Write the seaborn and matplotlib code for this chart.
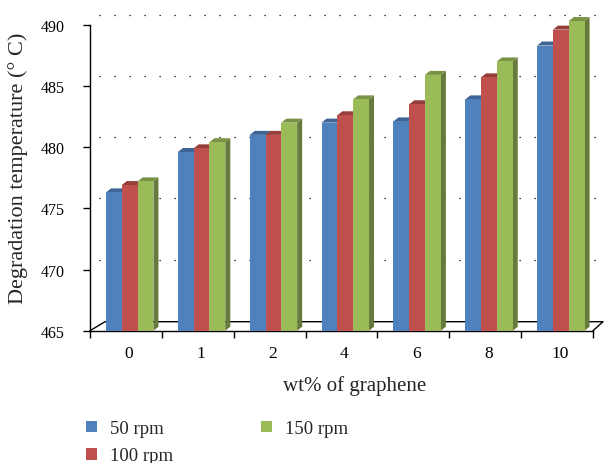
import numpy as np
import pandas as pd
import matplotlib
matplotlib.use("Agg")
import matplotlib.pyplot as plt
import seaborn as sns
from matplotlib.patches import Polygon, Patch
from matplotlib.colors import to_rgb

# ---- data ----
categories = ["0", "1", "2", "4", "6", "8", "10"]
rpm_50 = [476.3, 479.6, 481.0, 482.0, 482.1, 483.9, 488.3]
rpm_100 = [476.9, 479.9, 481.0, 482.6, 483.5, 485.7, 489.6]
rpm_150 = [477.2, 480.4, 482.0, 483.9, 485.9, 487.0, 490.3]
series_names = ["50 rpm", "100 rpm", "150 rpm"]
y_ticks = [465, 470, 475, 480, 485, 490]

sns.set_style("white")
plt.rcParams['font.family'] = ['Liberation Serif', 'DejaVu Serif']

df = pd.DataFrame({
    "wt": categories * 3,
    "temp": rpm_50 + rpm_100 + rpm_150,
    "speed": np.repeat(series_names, len(categories)),
})

colors = ["#4F81BD", "#C0504D", "#9BBB59"]


def shade(c, f):
    r, g, b = to_rgb(c)
    return (r * f, g * f, b * f)


W, H = 609, 464
fig = plt.figure(figsize=(W / 100, H / 100), dpi=100)
ax_left, ax_bottom, ax_w, ax_h = 90, 132.3, 503, 312.1
ax = fig.add_axes([ax_left / W, ax_bottom / H, ax_w / W, ax_h / H])
ymin, ymax = 465, 490.5

sns.barplot(data=df, x="wt", y="temp", hue="speed", order=categories,
            hue_order=series_names, palette=colors, saturation=1,
            width=0.66, dodge=True, legend=False, ax=ax, zorder=3,
            linewidth=0, errorbar=None)
ax.set_xlim(-0.5, len(categories) - 0.5)
ax.set_ylim(ymin, ymax)

xs = ax_w / len(categories)          # px per category unit
ys = ax_h / (ymax - ymin)            # px per degree

shift = 3.8 / xs
ddx, ddy = 5 / xs, 4 / ys
for cont, col in zip(ax.containers, colors):
    for bar in cont:
        bar.set_x(bar.get_x() + shift)
        x0 = bar.get_x()
        x1 = x0 + bar.get_width()
        top = bar.get_y() + bar.get_height()
        side = Polygon([(x1, ymin), (x1, top), (x1 + ddx, top + ddy), (x1 + ddx, ymin + ddy)],
                       closed=True, fc=shade(col, 0.66), ec='none', zorder=2.6, clip_on=False)
        topf = Polygon([(x0, top), (x1, top), (x1 + ddx, top + ddy), (x0 + ddx, top + ddy)],
                       closed=True, fc=shade(col, 0.78), ec='none', zorder=2.8, clip_on=False)
        ax.add_patch(side)
        ax.add_patch(topf)

# back-wall dotted gridlines
gdx, gdy = 9 / xs, 10 / ys
for yv in y_ticks[1:]:
    ax.plot([-0.5 + gdx, 6.5 + gdx], [yv + gdy] * 2, color='black', lw=0.9,
            ls=(0, (1, 11)), zorder=1, clip_on=False)

# floor outline
fdxL, fdxR, fdy = 15 / xs, 10 / xs, 9 / ys
ax.plot([-0.5, -0.5 + fdxL, 6.5 + fdxR, 6.5], [ymin, ymin + fdy, ymin + fdy, ymin],
        color='black', lw=1, zorder=2.2, clip_on=False)

for s in ['top', 'right']:
    ax.spines[s].set_visible(False)
for s in ['left', 'bottom']:
    ax.spines[s].set_color('black')
    ax.spines[s].set_linewidth(1)
ax.spines['left'].set_bounds(465, 490)

ax.set_yticks(y_ticks)
ax.tick_params(axis='y', direction='out', length=5, width=1, color='black', pad=13,
               labelsize=11.5, left=True, labelcolor='black')
ax.set_xticks(np.arange(len(categories)) + 3 / xs, labels=categories)
ax.set_xticks(np.arange(-0.5, len(categories), 1), minor=True)
ax.tick_params(axis='x', which='minor', direction='out', length=5, width=1,
               color='black', bottom=True)
ax.tick_params(axis='x', which='major', length=0, pad=10, labelsize=12.5, labelcolor='black')
ax.set_xlabel("")
ax.set_ylabel("")
ax.grid(False)

fig.text(18 / W, 1 - 168 / H, "Degradation temperature (° C)", rotation=90,
         ha='center', va='center', fontsize=16)
fig.text(355 / W, 1 - 386 / H, "wt% of graphene", ha='center', va='center', fontsize=15)

handles = [Patch(facecolor=c, edgecolor='none', label=n) for c, n in zip(colors, series_names)]
fig.legend(handles=handles, loc='upper left', bbox_to_anchor=(86 / W, 1 - 421 / H),
           ncol=2, frameon=False, handlelength=0.58, handleheight=0.58,
           handletextpad=0.7, columnspacing=4.7, labelspacing=0.55, fontsize=13.5,
           borderpad=0, borderaxespad=0)

fig.savefig("out.png", dpi=100)
